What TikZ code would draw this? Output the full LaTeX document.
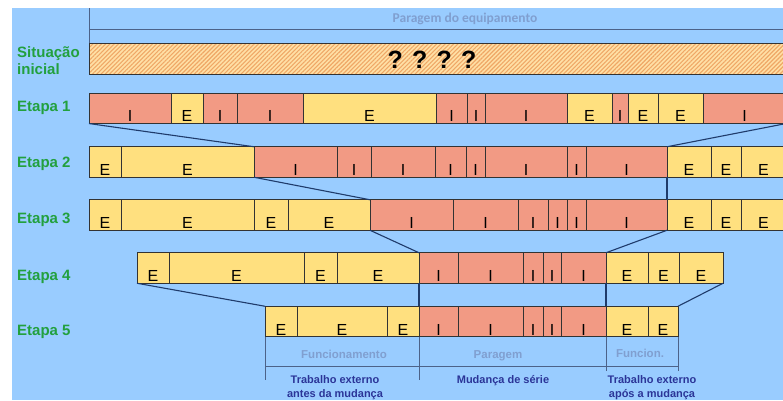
\documentclass[tikz,border=0pt]{standalone}
\usepackage{fontspec}
\setmainfont{Liberation Sans}
\newfontfamily\calibri{Carlito}
\usetikzlibrary{positioning,patterns.meta}

\definecolor{skyback}{HTML}{99CCFF}
\definecolor{tintI}{HTML}{F29A84}
\definecolor{tintE}{HTML}{FFE07F}
\definecolor{hatchbase}{HTML}{FFE0A6}
\definecolor{hatchline}{HTML}{EFA766}
\definecolor{stagegreen}{HTML}{22A03E}
\definecolor{navy}{HTML}{1F3B6B}
\definecolor{greyblue}{HTML}{809FD0}
\definecolor{inkblue}{HTML}{2B3598}

\begin{document}
\begin{tikzpicture}[x=1pt,y=-1pt]
\tikzset{
    seg/.style={rectangle, draw=black!80, line width=1pt, inner sep=0pt, outer sep=0pt, minimum height=30.5pt, text height=27pt, text depth=0pt, font=\fontsize{16}{16}\selectfont},
    stage/.style={inner sep=0pt, anchor=base west, text=stagegreen, font=\bfseries\fontsize{15}{17}\selectfont},
    link/.style={draw=navy, line width=1.1pt},
    bracket/.style={draw=navy!80, line width=0.9pt},
    phase/.style={inner sep=0pt, anchor=base, text=greyblue, font=\bfseries\fontsize{11.5}{13}\selectfont},
    task/.style={inner sep=0pt, anchor=north, align=center, text=inkblue, font=\bfseries\fontsize{11}{14}\selectfont}
}
\useasboundingbox (0,0) rectangle (783,400);
\fill[white] (0,0) rectangle (783,400);
\fill[skyback] (12,8) rectangle (783,400);

% situacao inicial
\node[rectangle, draw=black!80, line width=1pt, inner sep=0pt, outer sep=0pt, minimum width=697pt, minimum height=31pt, preaction={fill=hatchbase}, pattern={Lines[angle=45, distance=3pt, line width=1.1pt]}, pattern color=hatchline] (sit) at (437.5,58.5) {};
\node[inner sep=0pt, anchor=base, font=\bfseries\fontsize{25}{25}\selectfont] (unknown) at (432,68) {? ? ? ?};

\coordinate (topleft) at (89,8);
\coordinate (spanl) at (89,29);
\coordinate (spanr) at (786,29);
\draw[bracket] (sit.north west) -- (topleft);
\draw[bracket] (spanl) -- (spanr);
\node[inner sep=0pt, anchor=base, text=greyblue, font=\calibri\bfseries\fontsize{13.5}{15}\selectfont] (stoptitle) at (465,22.5) {Paragem do equipamento};

% etapas
\foreach \a/\b/\t [count=\i] in {89/171/I, 171/203/E, 203/237/I, 237/303/I, 303/436/E, 436/467/I, 467/485/I, 485/567/I, 567/612/E, 612/628/I, 628/658/E, 658/703/E, 703/786/I}
    \node[seg, fill=tint\t, minimum width={(\b-\a)*1pt}] (etapa1-\i) at ({(\a+\b)/2},108.3) {\t};
\foreach \a/\b/\t [count=\i] in {89/121/E, 121/254/E, 254/337/I, 337/371/I, 371/435/I, 435/466/I, 466/485/I, 485/567/I, 567/586/I, 586/667/I, 667/711/E, 711/741/E, 741/786/E}
    \node[seg, fill=tint\t, minimum width={(\b-\a)*1pt}] (etapa2-\i) at ({(\a+\b)/2},162) {\t};
\foreach \a/\b/\t [count=\i] in {89/121/E, 121/254/E, 254/288/E, 288/370/E, 370/453/I, 453/518/I, 518/548/I, 548/567/I, 567/586/I, 586/667/I, 667/711/E, 711/741/E, 741/786/E}
    \node[seg, fill=tint\t, minimum width={(\b-\a)*1pt}] (etapa3-\i) at ({(\a+\b)/2},215) {\t};
\foreach \a/\b/\t [count=\i] in {137/169/E, 169/304/E, 304/337/E, 337/419/E, 419/458/I, 458/523/I, 523/543/I, 543/561/I, 561/606/I, 606/648/E, 648/679/E, 679/723/E}
    \node[seg, fill=tint\t, minimum width={(\b-\a)*1pt}] (etapa4-\i) at ({(\a+\b)/2},268) {\t};
\foreach \a/\b/\t [count=\i] in {265/297/E, 297/387/E, 387/419/E, 419/458/I, 458/523/I, 523/543/I, 543/561/I, 561/606/I, 606/648/E, 648/678/E}
    \node[seg, fill=tint\t, minimum width={(\b-\a)*1pt}] (etapa5-\i) at ({(\a+\b)/2},321.5) {\t};

\node[stage, anchor=west, align=left] (sitlabel) at (17,61) {Situação\\inicial};
\node[stage] (stage1) at (17,111.5) {Etapa 1};
\node[stage] (stage2) at (17,167.7) {Etapa 2};
\node[stage] (stage3) at (17,223) {Etapa 3};
\node[stage] (stage4) at (17,280) {Etapa 4};
\node[stage] (stage5) at (17,335.5) {Etapa 5};

\draw[link] (etapa1-1.south west) -- (etapa2-3.north west);
\draw[link] (etapa1-13.south east) -- (etapa2-11.north west);
\draw[link] (etapa2-2.south east) -- (etapa3-5.north west);
\draw[link] (etapa2-11.south west) -- (etapa3-11.north west);
\draw[link] (etapa3-5.south west) -- (etapa4-5.north west);
\draw[link] (etapa3-11.south west) -- (etapa4-10.north west);
\draw[link] (etapa4-1.south west) -- (etapa5-1.north west);
\draw[link] (etapa4-5.south west) -- (etapa5-4.north west);
\draw[link] (etapa4-10.south west) -- (etapa5-9.north west);
\draw[link] (etapa4-12.south east) -- (etapa5-10.north east);

% fases
\coordinate (tick1) at (265,380);
\coordinate (tick2) at (419,380);
\coordinate (tick3) at (606,371);
\coordinate (tick4) at (678,371);
\coordinate (spanbl) at (265,366);
\coordinate (spanbr) at (678,366);
\draw[bracket] (etapa5-1.south west) -- (tick1);
\draw[bracket] (etapa5-4.south west) -- (tick2);
\draw[bracket] (etapa5-9.south west) -- (tick3);
\draw[bracket] (etapa5-10.south east) -- (tick4);
\draw[bracket] (spanbl) -- (spanbr);

\node[phase] (runbefore) at (344,358.5) {Funcionamento};
\node[phase] (stopped) at (498,358) {Paragem};
\node[phase] (runafter) at (640,357.5) {Funcion.};
\node[task] (before) at (335,375) {Trabalho externo\\antes da mudança};
\node[task] (changeover) at (503,375) {Mudança de série};
\node[task] (after) at (652,375) {Trabalho externo\\após a mudança};
\end{tikzpicture}
\end{document}
